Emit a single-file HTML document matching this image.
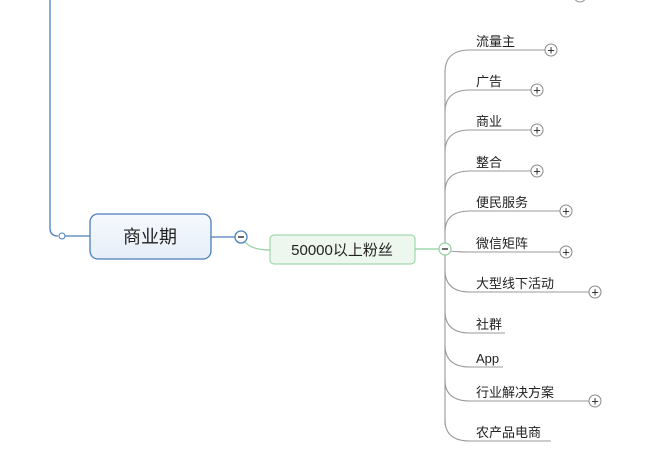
<!DOCTYPE html>
<html><head><meta charset="utf-8"><style>
body{margin:0;width:665px;height:457px;background:#fff;overflow:hidden;font-family:"Liberation Sans","Noto Sans CJK SC",sans-serif}
svg{position:absolute;left:0;top:0}
</style></head><body>
<svg width="665" height="457" viewBox="0 0 665 457" font-family="Liberation Sans, Noto Sans CJK SC, sans-serif">
<defs><linearGradient id="g1" x1="0" y1="0" x2="0" y2="1"><stop offset="0" stop-color="#f6f9fd"/><stop offset="1" stop-color="#e6eef8"/></linearGradient></defs>
<circle cx="580" cy="-4" r="6" fill="#fff" stroke="#999"/>
<path d="M50,0 V228 Q50,236 58,236" fill="none" stroke="#4a7ebb" stroke-width="1.3"/>
<circle cx="62" cy="236" r="3" fill="#fff" stroke="#4a7ebb"/>
<line x1="65" y1="236" x2="90" y2="236" stroke="#4a7ebb" stroke-width="1.3"/>
<rect x="90" y="214" width="121" height="45" rx="8" fill="url(#g1)" stroke="#4a7ebb" stroke-width="1.3"/>
<text x="150" y="243" font-size="18" text-anchor="middle" fill="#222">商业期</text>
<line x1="211" y1="237" x2="235" y2="237" stroke="#4a7ebb" stroke-width="1.3"/>
<circle cx="241" cy="237" r="6" fill="#fff" stroke="#4a7ebb" stroke-width="1.3"/>
<line x1="238" y1="237" x2="244" y2="237" stroke="#333" stroke-width="1.5"/>
<path d="M245,242 Q252,250 270,250" fill="none" stroke="#8fd19e" stroke-width="1.2"/>
<rect x="270" y="235" width="145" height="29" rx="4" fill="#eef7ee" stroke="#8fd19e"/>
<text x="342" y="255" font-size="15" text-anchor="middle" fill="#222">50000以上粉丝</text>
<line x1="415" y1="249" x2="439" y2="249" stroke="#8fd19e" stroke-width="1.2"/>
<g fill="none" stroke="#999" stroke-width="1.1">
<path d="M445,70 V425"/>
<path d="M445,72 Q445,50 470,50 H545"/>
<path d="M445,112 Q445,90 470,90 H531"/>
<path d="M445,152 Q445,130 470,130 H531"/>
<path d="M445,192 Q445,171 470,171 H531"/>
<path d="M445,232 Q445,211 470,211 H560"/>
<path d="M445,249 Q445,252 470,252 H560"/>
<path d="M445,270 Q445,292 470,292 H589"/>
<path d="M445,311 Q445,333 470,333 H505"/>
<path d="M445,345 Q445,367 470,367 H503"/>
<path d="M445,380 Q445,401 470,401 H589"/>
<path d="M445,420 Q445,441 470,441 H551"/>
</g>
<circle cx="445" cy="249" r="6" fill="#fff" stroke="#8fd19e" stroke-width="1.2"/>
<line x1="442" y1="249" x2="448" y2="249" stroke="#333" stroke-width="1.4"/>
<g fill="#fff" stroke="#888">
<circle cx="551" cy="50" r="6"/><circle cx="537" cy="90" r="6"/><circle cx="537" cy="130" r="6"/><circle cx="537" cy="171" r="6"/><circle cx="566" cy="211" r="6"/><circle cx="566" cy="252" r="6"/><circle cx="595" cy="292" r="6"/><circle cx="595" cy="401" r="6"/>
</g>
<g font-size="13" fill="#222" stroke="none">
<text x="551" y="54.5" text-anchor="middle">+</text><text x="537" y="94.5" text-anchor="middle">+</text><text x="537" y="134.5" text-anchor="middle">+</text><text x="537" y="175.5" text-anchor="middle">+</text><text x="566" y="215.5" text-anchor="middle">+</text><text x="566" y="256.5" text-anchor="middle">+</text><text x="595" y="296.5" text-anchor="middle">+</text><text x="595" y="405.5" text-anchor="middle">+</text>
</g>
<g font-size="13" fill="#222">
<text x="476" y="46">流量主</text>
<text x="476" y="86">广告</text>
<text x="476" y="126">商业</text>
<text x="476" y="167">整合</text>
<text x="476" y="207">便民服务</text>
<text x="476" y="248">微信矩阵</text>
<text x="476" y="288">大型线下活动</text>
<text x="476" y="329">社群</text>
<text x="476" y="363">App</text>
<text x="476" y="397">行业解决方案</text>
<text x="476" y="437">农产品电商</text>
</g>
</svg>
</body></html>
